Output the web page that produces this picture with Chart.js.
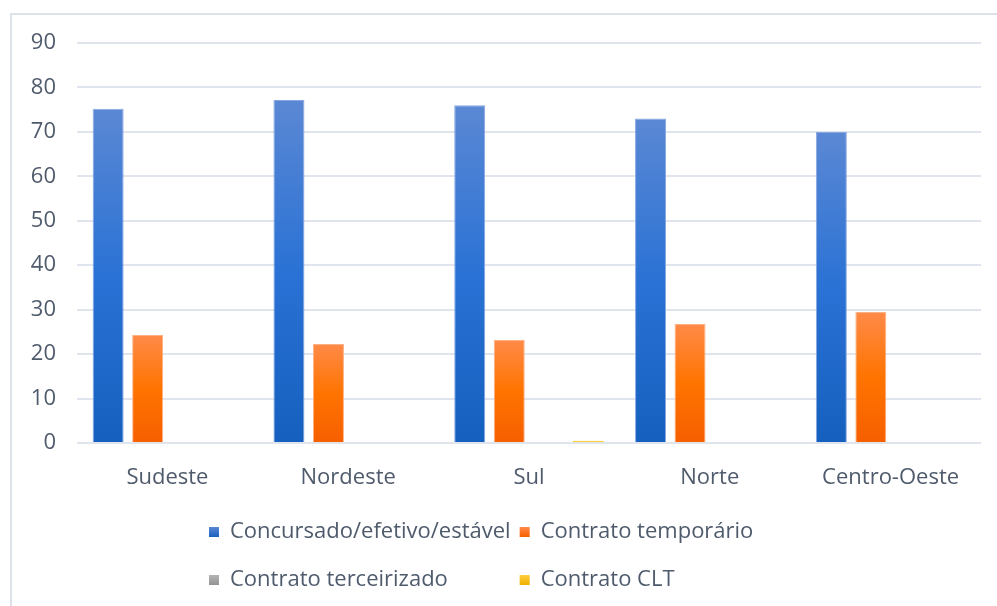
<!DOCTYPE html>
<html>
<head>
<meta charset="utf-8">
<script src="https://cdn.jsdelivr.net/npm/chart.js@4/dist/chart.umd.min.js"></script>
<style>
  html, body { margin: 0; padding: 0; background: #ffffff; }
  #wrap { width: 997px; height: 606px; position: relative; }
</style>
</head>
<body>
<div id="wrap"><canvas id="c" width="997" height="606"></canvas></div>
<script>
// ---- Data ----
const categories = ['Sudeste', 'Nordeste', 'Sul', 'Norte', 'Centro-Oeste'];
const seriesNames = ['Concursado/efetivo/estável', 'Contrato temporário', 'Contrato terceirizado', 'Contrato CLT'];
const efetivo = [75.2, 77.2, 76.0, 73.0, 70.0];
const temporario = [24.3, 22.3, 23.2, 26.8, 29.5];
const terceirizado = [0, 0, 0, 0, 0];
const clt = [0, 0, 0.5, 0, 0];
const yTickMax = 90;
const yTickStep = 10;

// ---- Styles ----
const textColor = '#4f5b6c';
const gridColor = '#e0e4ec';
const fontFamily = '"Open Sans", Lato, sans-serif';
const fontSize = 22;
const palettes = [
  ['#5b88d4', '#2a72d5', '#1560bf'],
  ['#ff8a48', '#ff7400', '#f65f00'],
  ['#b4b4b4', '#a5a5a5', '#939393'],
  ['#ffcd40', '#ffc000', '#f0b000']
];
const borderColors = ['#86a7e2', '#ffb184', '#cccccc', '#ffc000'];

function barGradient(stops) {
  return (ctx) => {
    const chart = ctx.chart;
    if (!chart.chartArea || ctx.type !== 'data') return stops[1];
    const y = chart.scales.y;
    const top = y.getPixelForValue(ctx.raw);
    const bottom = y.getPixelForValue(0);
    if (!(bottom - top > 4)) return stops[1];
    const g = chart.ctx.createLinearGradient(0, top, 0, bottom);
    g.addColorStop(0, stops[0]);
    g.addColorStop(0.5, stops[1]);
    g.addColorStop(1, stops[2]);
    return g;
  };
}

const seriesData = [efetivo, temporario, terceirizado, clt];
const datasets = seriesData.map((d, i) => ({
  label: seriesNames[i],
  data: d,
  backgroundColor: barGradient(palettes[i]),
  borderColor: borderColors[i],
  borderWidth: 1,
  categoryPercentage: 0.874,
  barPercentage: 0.785,
  legendColor: palettes[i]
}));

// Frame around the chart
const framePlugin = {
  id: 'frame',
  beforeDraw(chart) {
    const c = chart.ctx;
    c.save();
    c.strokeStyle = '#dde2ea';
    c.lineWidth = 2;
    c.strokeRect(11, 14, chart.width + 20, chart.height + 20);
    c.restore();
  }
};

// Grid-style legend (two columns)
const legendLayout = { x: 209, colGap: 9, rowY: [532, 580], box: 10, textGap: 11 };
const gridLegend = {
  id: 'gridLegend',
  afterDraw(chart) {
    const c = chart.ctx;
    const ds = chart.data.datasets;
    c.save();
    c.font = fontSize + 'px ' + fontFamily;
    c.textBaseline = 'middle';
    c.textAlign = 'left';
    const cols = 2;
    const colWidths = [0, 0];
    ds.forEach((d, i) => {
      const w = legendLayout.box + legendLayout.textGap + c.measureText(d.label).width;
      colWidths[i % cols] = Math.max(colWidths[i % cols], w);
    });
    ds.forEach((d, i) => {
      const col = i % cols, row = Math.floor(i / cols);
      let x = legendLayout.x;
      if (col === 1) x += colWidths[0] + legendLayout.colGap;
      const y = legendLayout.rowY[row];
      const b = legendLayout.box;
      const g = c.createLinearGradient(0, y - b / 2, 0, y + b / 2);
      g.addColorStop(0, d.legendColor[0]);
      g.addColorStop(1, d.legendColor[2]);
      c.fillStyle = g;
      c.fillRect(x, y - b / 2, b, b);
      c.fillStyle = textColor;
      c.fillText(d.label, x + b + legendLayout.textGap, y);
    });
    c.restore();
  }
};

new Chart(document.getElementById('c'), {
  type: 'bar',
  data: { labels: categories, datasets },
  plugins: [framePlugin, gridLegend],
  options: {
    responsive: false,
    animation: false,
    devicePixelRatio: 1,
    layout: { padding: { top: 43, right: 16, left: 0, bottom: 0 } },
    plugins: {
      legend: { display: false },
      tooltip: { enabled: false }
    },
    scales: {
      x: {
        grid: { display: false, drawTicks: false },
        border: { display: false },
        ticks: { color: textColor, font: { family: fontFamily, size: fontSize }, padding: 22, maxRotation: 0 },
        afterFit(scale) { scale.height = 163; }
      },
      y: {
        min: 0,
        max: yTickMax,
        ticks: { stepSize: yTickStep, color: textColor, font: { family: fontFamily, size: fontSize }, padding: 21 },
        grid: { color: gridColor, lineWidth: 2, drawTicks: false },
        border: { display: false },
        afterFit(scale) { scale.width = 77; }
      }
    }
  }
});
</script>
</body>
</html>
